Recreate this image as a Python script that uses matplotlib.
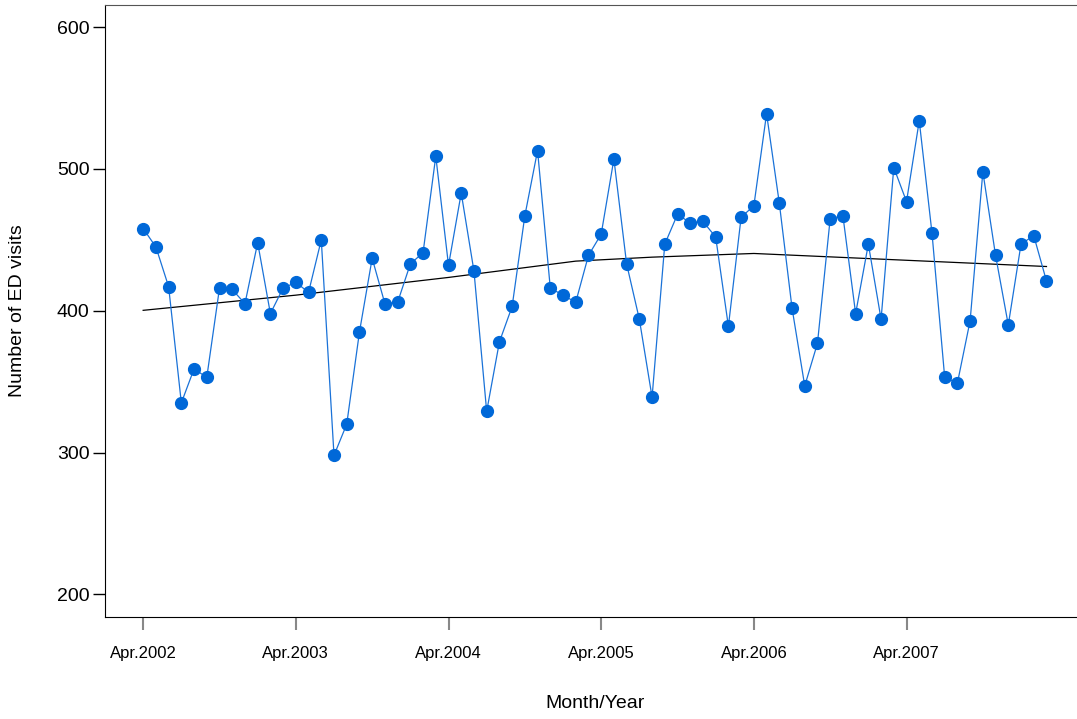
import numpy as np
import matplotlib
matplotlib.use("Agg")
import matplotlib.pyplot as plt

plt.rcParams['font.family'] = ['Liberation Sans', 'DejaVu Sans']

# monthly ED visits, Apr 2002 .. Mar 2008
visits = [458, 445, 417, 335, 359, 353, 416, 415, 405, 448, 398, 416,
          420, 413, 450, 298, 320, 385, 437, 405, 406, 433, 441, 509,
          432, 483, 428, 329, 378, 403, 467, 513, 416, 411, 406, 439,
          454, 507, 433, 394, 339, 447, 468, 462, 463, 452, 389, 466,
          474, 539, 476, 402, 347, 377, 465, 467, 398, 447, 394, 501,
          477, 534, 455, 353, 349, 393, 498, 439, 390, 447, 453, 421]
months = np.arange(len(visits))

# trend line (month index, value)
trend_month = [0, 12, 24, 34, 40, 48, 71]
trend_value = [400.3, 411, 423.5, 435, 437.8, 440.4, 431.2]

tick_pos = [0, 12, 24, 36, 48, 60]
tick_labels = ['Apr.2002', 'Apr.2003', 'Apr.2004', 'Apr.2005', 'Apr.2006', 'Apr.2007']

fig = plt.figure(figsize=(10.77, 7.19), dpi=100)
ax = fig.add_axes([105/1077, 102/719, 972/1077, 612.5/719])

ax.plot(trend_month, trend_value, color='black', lw=0.9, zorder=2)
ax.plot(months, visits, color='#1a72d8', lw=0.9, marker='o', ms=8.5,
        mfc='#0068d8', mec='#0068d8', zorder=3)

ax.set_xlim(-3, 73.4)
ax.set_ylim(184, 616)
ax.set_yticks([200, 300, 400, 500, 600])
ax.set_xticks(tick_pos)
ax.set_xticklabels(tick_labels)

ax.spines['right'].set_visible(False)
ax.spines['top'].set_color('#555555')
ax.tick_params(axis='y', length=9, width=1, labelsize=14, pad=2)
ax.tick_params(axis='x', length=9, width=1.5, color='#888888', labelsize=12, pad=12)

ax.set_xlabel('Month/Year', fontsize=14)
ax.set_ylabel('Number of ED visits', fontsize=14)
# label positions in axes fraction, matched to the reference
ax.xaxis.set_label_coords((595 - 105) / 972, -(704 - 617) / 612.5)
ax.yaxis.set_label_coords(-(105 - 18) / 972, (617 - 311) / 612.5)
ax.xaxis.label.set_va('center')
ax.yaxis.label.set_va('center')

fig.savefig('out.png', dpi=100)
